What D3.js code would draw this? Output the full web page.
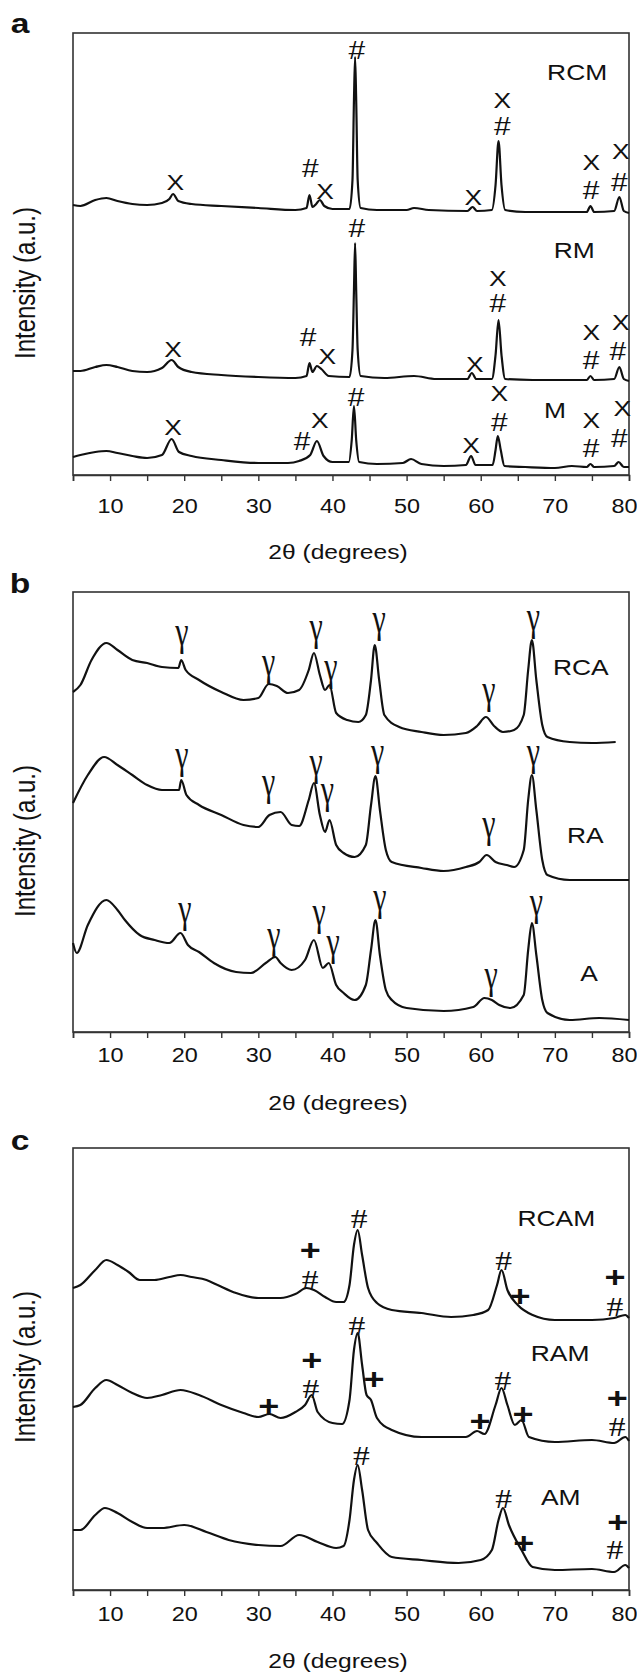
<!DOCTYPE html>
<html><head><meta charset="utf-8">
<script src="https://cdn.jsdelivr.net/npm/d3@7"></script>
<style>
html,body{margin:0;padding:0;background:#fff;}
svg{display:block;}
</style></head>
<body>
<svg id="chart" width="637" height="1673"></svg>
<script>
// ---------- DATA (2θ in degrees, intensity in arbitrary units) ----------
const thetaTicks = [5,10,15,20,25,30,35,40,45,50,55,60,65,70,75,80];
const tickLabels = ["10","20","30","40","50","60","70","80"];
const xTitle = "2θ  (degrees)";
const yTitle = "Intensity (a.u.)";
const panelLetters = ["a","b","c"];

// Panel a
const RCM = [[5,270],[6,269],[8,275],[9.5,277],[11,274],[13,271],[15,270],[17,272],[18,276],[18.5,281],[19.2,274],[21,271],[25,269],[30,267],[35,265],[36.5,267],[36.9,280],[37.3,268],[37.8,271],[38.3,275],[38.9,269],[40,266],[42.3,266],[42.7,295],[42.9,375],[43.05,418],[43.2,375],[43.4,295],[43.8,267],[46,265],[50,265],[51,267],[53,265],[58.2,264],[58.9,268],[59.5,264],[61.5,265],[62,290],[62.4,334],[62.8,290],[63.3,265],[66,263],[70,263],[74.3,263],[74.8,269],[75.3,263],[78,264],[78.7,278],[79.3,264],[80,262]];
const RM = [[5,104],[6,104],[8,108],[9.5,110],[11,108],[13,104],[15,103],[17,107],[18.3,115],[19.2,108],[21,103],[25,100],[30,98],[35,97],[36.5,99],[36.9,112],[37.3,103],[37.9,109],[38.5,106],[39.5,99],[42.3,98],[42.7,125],[42.9,185],[43.05,232],[43.2,185],[43.4,125],[43.8,99],[47,97],[51,99],[54,96],[58.2,96],[58.8,102],[59.4,96],[61.5,96],[62,120],[62.4,155],[62.8,120],[63.3,96],[67,95],[74.3,95],[74.8,99],[75.3,95],[78,96],[78.7,108],[79.3,96],[80,94]];
const M = [[5,18],[6,20],[8,23],[9.5,24],[11,22],[13,19],[15,17],[17,20],[18.3,36],[19.3,23],[21,19],[25,15],[30,12],[34,12],[35.5,14],[37,20],[37.9,34],[38.8,19],[40,13],[42.2,13],[42.6,35],[42.9,69],[43.2,35],[43.6,13],[46,11],[49.5,12],[50.6,16],[52,11],[55,9],[58,10],[58.7,19],[59.3,10],[61.6,10],[62,25],[62.3,39],[62.7,25],[63.2,9],[66,8],[70,7],[72.3,9],[74.3,8],[74.8,11],[75.3,8],[78,9],[78.6,13],[79.3,8],[80,8]];
const marksA = [
  [18.8,293,"X"],[37.0,307,"#"],[39.0,284,"X"],[43.3,425,"#"],[59.0,278,"X"],[62.9,375,"X"],[62.9,349,"#"],[74.9,313,"X"],[74.9,285,"#"],[78.9,324,"X"],[78.7,293,"#"],
  [18.5,126,"X"],[36.7,138,"#"],[39.3,119,"X"],[43.3,247,"#"],[59.2,111,"X"],[62.3,197,"X"],[62.3,172,"#"],[74.9,143,"X"],[74.9,115,"#"],[78.9,153,"X"],[78.5,124,"#"],
  [18.5,48,"X"],[35.9,34,"#"],[38.3,55,"X"],[43.2,78,"#"],[58.7,30,"X"],[62.5,82,"X"],[62.5,53,"#"],[74.9,55,"X"],[74.9,27,"#"],[79.1,67,"X"],[78.7,37,"#"]
];
const namesA = [["RCM",73.0,403],["RM",72.6,225],["M",70.0,65]];

// Panel b
const RCA = [[5,340],[6,347],[7.5,372],[9.5,389],[11,382],[13,372],[15,369],[17,365],[19.2,364],[19.6,372],[20.2,362],[22,352],[25,340],[28,332],[30,334],[31.4,348],[32.5,346],[34,339],[35.5,342],[36.8,362],[37.5,379],[38.3,357],[39,342],[39.6,347],[40.5,319],[42,312],[43.5,310],[44.5,317],[45.2,352],[45.7,387],[46.3,352],[47,317],[49,305],[52,300],[55,297],[58,299],[59.5,306],[60.7,315],[61.8,306],[63,300],[64.5,302],[65.8,317],[66.4,362],[66.9,392],[67.5,352],[68.3,307],[69,295],[72,290],[75,289],[78.2,290]];
const RA = [[5,229],[7,257],[9.2,275],[11,267],[13,257],[15,247],[17,242],[19.3,242],[19.6,252],[20.3,237],[22,227],[25,217],[28,207],[30,205],[31.5,217],[33,220],[34.5,207],[35.5,206],[36.8,232],[37.5,249],[38.3,217],[39,200],[39.6,212],[40.5,187],[41.5,179],[43,175],[44.5,187],[45.2,227],[45.8,256],[46.4,222],[47.2,182],[48,170],[52,164],[55,161],[58,165],[59.8,170],[60.8,177],[62,170],[63.5,167],[64.5,165],[65.8,182],[66.4,232],[66.9,257],[67.5,222],[68.3,172],[69,157],[72,152],[76,152],[80,152]];
const A = [[5,89],[5.5,79],[7,107],[9.5,132],[11,122],[12,112],[14,97],[16,92],[18,89],[19.5,99],[20.5,87],[22,80],[24,69],[27,60],[29,59],[31,69],[32.3,75],[33,69],[34.5,62],[36.3,72],[37.5,92],[38.7,64],[39.5,69],[40.5,47],[41.5,39],[43,32],[44.5,47],[45.2,82],[45.8,112],[46.4,77],[47.2,42],[48,32],[50,24],[55,21],[59,25],[60.5,34],[61.5,32],[62.5,27],[64,24],[65.8,37],[66.4,82],[66.9,109],[67.5,77],[68.3,32],[69,19],[72,12],[76,14],[80,12]];
const marksB = [
  [19.7,392,"γ"],[31.4,362,"γ"],[37.8,397,"γ"],[39.8,357,"γ"],[46.3,405,"γ"],[61.1,334,"γ"],[67.1,407,"γ"],
  [19.7,269,"γ"],[31.4,242,"γ"],[37.8,262,"γ"],[39.3,234,"γ"],[46.1,272,"γ"],[61.1,200,"γ"],[67.1,272,"γ"],
  [20.1,115,"γ"],[32.1,89,"γ"],[38.2,112,"γ"],[40.1,82,"γ"],[46.4,127,"γ"],[61.4,49,"γ"],[67.5,122,"γ"]
];
const namesB = [["RCA",73.5,365],["RA",74.1,197],["A",74.6,59]];

// Panel c
const RCAM = [[5,302],[6,305],[8,320],[9.5,330],[11,325],[12.5,318],[14,310],[16,310],[18,313],[19.5,315],[21,313],[23,310],[24.5,305],[27,297],[30,292],[33,292],[35,296],[36.5,302],[37.5,300],[39,293],[40.5,288],[41.5,288],[42.3,305],[42.9,345],[43.4,360],[44,335],[44.8,302],[46,287],[48,280],[52,277],[56,273],[59,275],[61,280],[62.2,305],[62.8,320],[63.6,300],[65,285],[67,275],[70,270],[75,270],[78,272],[79.5,275],[80,272]];
const RAM = [[5,183],[6,185],[8,202],[9.5,210],[11,205],[13,197],[15,192],[17,195],[19.5,200],[22,195],[25,185],[28,177],[30,173],[31.5,176],[33,172],[35,178],[36.3,185],[37.2,195],[38,178],[40,167],[41.3,166],[42.3,190],[42.9,240],[43.4,257],[44,225],[44.6,195],[45.2,190],[46,172],[48,160],[52,153],[58,153],[59.5,159],[60.5,156],[62,185],[62.8,202],[63.6,185],[64.6,165],[65.5,170],[66.5,153],[70,148],[75,150],[78,147],[79.5,153],[80,149]];
const AM = [[5,60],[6,60],[8,75],[9.3,82],[11,77],[13,68],[15,62],[17,62],[20,65],[23,58],[26,50],[30,45],[33,44],[35.5,55],[38,48],[40.5,42],[41.5,44],[42.3,70],[42.9,110],[43.4,125],[44,100],[44.8,60],[46,47],[48,33],[52,30],[57,27],[60,30],[61.5,40],[62.4,70],[63,82],[63.8,65],[65.5,40],[67,23],[70,20],[75,21],[78,18],[79.5,25],[80,22]];
const marksC = [
  [37.0,341,"+"],[37.0,311,"#"],[43.6,372,"#"],[63.1,330,"#"],[65.3,295,"+"],[78.1,314,"+"],[78.1,284,"#"],
  [37.2,231,"+"],[37.1,202,"#"],[31.4,185,"+"],[43.3,265,"#"],[45.6,212,"+"],[59.9,170,"+"],[63.0,210,"#"],[65.7,177,"+"],[78.4,193,"+"],[78.4,164,"#"],
  [43.9,135,"#"],[63.1,92,"#"],[65.8,48,"+"],[78.5,69,"+"],[78.1,41,"#"]
];
const namesC = [["RCAM",70.2,372],["RAM",70.7,237],["AM",70.8,93]];

// ---------- LAYOUT ----------
const HS = 1.2; // horizontal stretch of the lettering in the source figure
const SANS = "'Liberation Sans', Arial, Helvetica, sans-serif";
const SERIF = "'Liberation Serif', 'Times New Roman', serif";
const panels = [
  {top:33, bottom:475, letterY:23, yTitleY:283, tickGap:18, titleY:552, series:[RCM,RM,M], marks:marksA, names:namesA, style:"a"},
  {top:592, bottom:1032, letterY:583, yTitleY:841, tickGap:10, titleY:1103, series:[RCA,RA,A], marks:marksB, names:namesB, style:"b"},
  {top:1148, bottom:1590, letterY:1140, yTitleY:1367, tickGap:11, titleY:1661, series:[RCAM,RAM,AM], marks:marksC, names:namesC, style:"c"}
];
const L = 73, R = 629;
const svg = d3.select("#chart");

function stext(g, x, y, str, size, opts={}) {
  const sy = opts.sy || 1;
  const rot = opts.rotate ? ` rotate(${opts.rotate})` : "";
  return g.append("text")
    .attr("transform", `translate(${x},${y}) scale(${HS},${sy})${rot}`)
    .attr("text-anchor", opts.anchor || "middle")
    .attr("dominant-baseline", opts.baseline || "central")
    .attr("dy", opts.dy || null)
    .attr("font-family", opts.family || SANS)
    .attr("font-weight", opts.weight || "normal")
    .attr("font-size", size)
    .attr("fill", "#111")
    .text(str);
}

panels.forEach((p, i) => {
  const g = svg.append("g");
  const x = d3.scaleLinear().domain([5, 80]).range([L, R]);
  const y = d3.scaleLinear().domain([0, p.bottom - p.top]).range([p.bottom, p.top]);

  // frame
  g.append("rect").attr("x", L).attr("y", p.top).attr("width", R - L).attr("height", p.bottom - p.top)
    .attr("fill", "none").attr("stroke", "#333").attr("stroke-width", 1.6);

  // x axis
  const ax = g.append("g").attr("transform", `translate(0,${p.bottom})`)
    .call(d3.axisBottom(x).tickValues(thetaTicks).tickSize(6).tickPadding(p.tickGap)
      .tickFormat(d => tickLabels.includes(String(d)) ? String(d) : ""));
  ax.select(".domain").attr("stroke", "#333").attr("stroke-width", 1.6);
  ax.selectAll(".tick line").attr("stroke", "#333").attr("stroke-width", 1.4);
  ax.selectAll(".tick text").attr("font-family", SANS).attr("font-size", 19.5).attr("fill", "#111")
    .attr("transform", d => d === 80 ? `translate(-5,0) scale(${HS},1)` : `scale(${HS},1)`);

  // traces
  const line = d3.line().x(d => x(d[0])).y(d => y(d[1])).curve(d3.curveMonotoneX);
  p.series.forEach(s => {
    g.append("path").datum(s).attr("d", line).attr("fill", "none")
      .attr("stroke", "#111").attr("stroke-width", 2.2).attr("stroke-linejoin", "round");
  });

  // peak markers
  p.marks.forEach(m => {
    const px = x(m[0]), py = y(m[1]);
    if (m[2] === "γ") {
      stext(g, px, py, m[2], 25, {family: SERIF, sy: 1.6, baseline: "alphabetic", dy: "0.12em"});
    } else if (p.style === "c" && m[2] === "#") {
      stext(g, px, py, m[2], 28, {family: SERIF});
    } else if (m[2] === "+") {
      stext(g, px, py, m[2], 30, {weight: "bold", dy: "0.02em"});
    } else if (m[2] === "#") {
      stext(g, px, py, m[2], 25);
    } else {
      stext(g, px, py, m[2], 22);
    }
  });

  // sample names
  p.names.forEach(n => stext(g, x(n[1]), y(n[2]), n[0], 22));

  // panel letter
  stext(g, 20, p.letterY, panelLetters[i], 28, {weight: "bold"});
  // axis titles
  stext(g, 338, p.titleY, xTitle, 20.5);
  stext(g, 25, p.yTitleY, yTitle, 24, {rotate: -90});
});
</script>
</body></html>
